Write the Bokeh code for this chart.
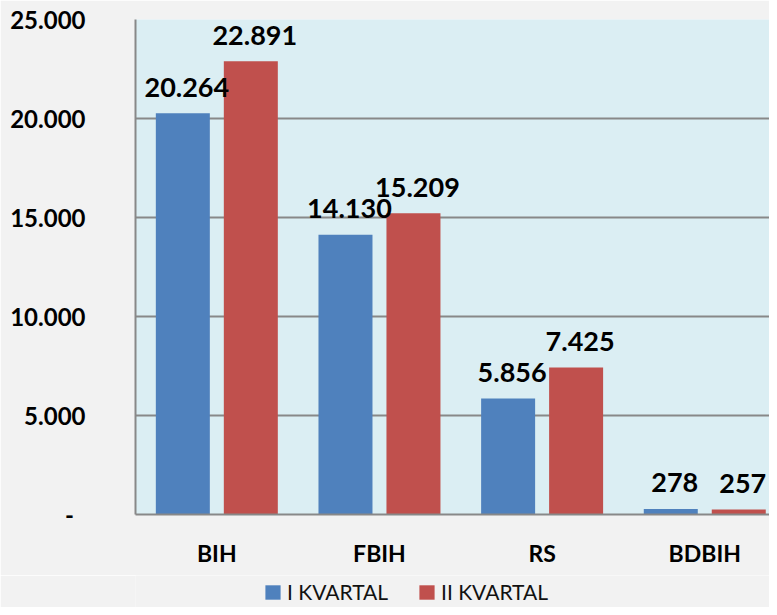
from bokeh.plotting import figure
from bokeh.layouts import column
from bokeh.models import Range1d, FixedTicker, Legend, LegendItem, ColumnDataSource
from bokeh.core.properties import value
from bokeh.embed import file_html
from bokeh.resources import INLINE

categories = ["BIH", "FBIH", "RS", "BDBIH"]
series_names = ["I KVARTAL", "II KVARTAL"]
q1_values = [20264, 14130, 5856, 278]
q2_values = [22891, 15209, 7425, 257]
y_ticks = [0, 5000, 10000, 15000, 20000, 25000]
y_tick_labels = ["-", "5.000", "10.000", "15.000", "20.000", "25.000"]

BLUE = "#4F81BD"
RED = "#C0504D"
GRID = "#888888"
BG = "#F2F2F2"
FONT = "Lato"

def fmt(v):
    return f"{v:,}".replace(",", ".")

centers = [i + 0.5 for i in range(len(categories))]
off = 0.209
bw = 0.332

src1 = ColumnDataSource(dict(x=[c - off for c in centers], top=q1_values,
                             lab=[fmt(v) for v in q1_values]))
src2 = ColumnDataSource(dict(x=[c + off for c in centers], top=q2_values,
                             lab=[fmt(v) for v in q2_values]))

p = figure(width=769, height=575, output_backend="svg", toolbar_location=None,
           x_range=Range1d(0, 3.898), y_range=Range1d(0, 25000),
           min_border_left=135, min_border_right=0, min_border_top=19,
           min_border_bottom=61)
p.border_fill_color = BG
p.background_fill_color = "#DBEEF3"
p.outline_line_color = None

p.vbar(x="x", top="top", width=bw, source=src1, fill_color=BLUE, line_color=None)
p.vbar(x="x", top="top", width=bw, source=src2, fill_color=RED, line_color=None)

for s in (src1, src2):
    p.text(x="x", y="top", text="lab", source=s, text_align="center",
           text_baseline="alphabetic", y_offset=-26, x_offset=4,
           text_font=value(FONT), text_font_style="bold", text_font_size="27px",
           text_color="black")

# axes
p.xgrid.grid_line_color = None
p.ygrid.ticker = FixedTicker(ticks=y_ticks)
p.ygrid.grid_line_color = GRID
p.ygrid.grid_line_width = 2

p.yaxis.ticker = FixedTicker(ticks=y_ticks)
overrides = {}
for t, l in zip(y_ticks, y_tick_labels):
    overrides[t] = l if t != 0 else l + "\u00a0\u00a0"
p.yaxis.major_label_overrides = overrides
p.yaxis.axis_line_color = GRID
p.yaxis.axis_line_width = 2
p.yaxis.major_tick_line_color = None
p.yaxis.minor_tick_line_color = None
p.yaxis.major_tick_out = 0
p.yaxis.major_tick_in = 0
p.yaxis.major_label_standoff = 50
p.yaxis.major_label_text_font = FONT
p.yaxis.major_label_text_font_style = "bold"
p.yaxis.major_label_text_font_size = "24px"
p.yaxis.major_label_text_color = "black"

p.xaxis.ticker = FixedTicker(ticks=centers)
p.xaxis.major_label_overrides = {c: n for c, n in zip(centers, categories)}
p.xaxis.axis_line_color = GRID
p.xaxis.axis_line_width = 2
p.xaxis.major_tick_line_color = None
p.xaxis.minor_tick_line_color = None
p.xaxis.major_tick_out = 0
p.xaxis.major_tick_in = 0
p.xaxis.major_label_standoff = 24
p.xaxis.major_label_text_font = FONT
p.xaxis.major_label_text_font_style = "bold"
p.xaxis.major_label_text_font_size = "23px"
p.xaxis.major_label_text_color = "black"

# legend strip below the chart
lg = figure(width=769, height=32, output_backend="svg", toolbar_location=None,
            x_range=Range1d(0, 1), y_range=Range1d(0, 1),
            x_axis_location=None, y_axis_location=None,
            min_border=0, min_border_left=0, min_border_right=0,
            min_border_top=0, min_border_bottom=0)
lg.border_fill_color = BG
lg.background_fill_color = BG
lg.outline_line_color = None
lg.xgrid.grid_line_color = None
lg.ygrid.grid_line_color = None
d1 = lg.vbar(x=[-10], top=[0], width=0.1, fill_color=BLUE, line_color=None)
d2 = lg.vbar(x=[-10], top=[0], width=0.1, fill_color=RED, line_color=None)
legend = Legend(items=[LegendItem(label=series_names[0], renderers=[d1]),
                       LegendItem(label=series_names[1], renderers=[d2])],
                orientation="horizontal", location=(128, 3),
                padding=0, margin=0, spacing=29, label_standoff=5,
                glyph_width=19, glyph_height=18, label_height=20,
                border_line_color=None, background_fill_alpha=0,
                label_text_font=FONT, label_text_font_size="21px",
                label_text_color="#111111")
lg.add_layout(legend, "center")

layout = column(p, lg, spacing=0)
open("out.html", "w").write(file_html(layout, INLINE))
